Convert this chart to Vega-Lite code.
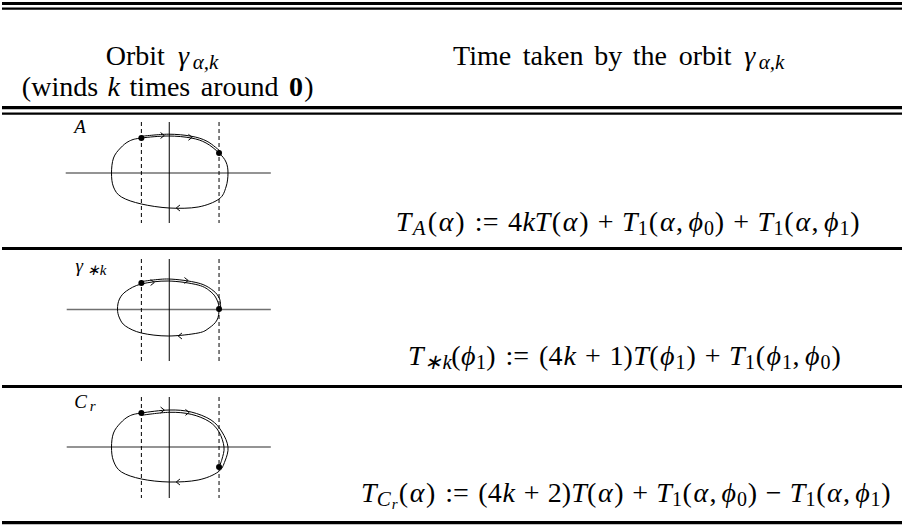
{
  "$schema": "https://vega.github.io/schema/vega-lite/v6.json",
  "width": 904,
  "height": 525,
  "autosize": {"type": "fit", "contains": "padding"},
  "padding": 0,
  "background": "white",
  "config": {"view": {"stroke": null}},
  "datasets": {
    "hrThick": [
      {"x1": 0, "x2": 904, "y": 3.5},
      {"x1": 0, "x2": 904, "y": 107.7},
      {"x1": 0, "x2": 904, "y": 248.5},
      {"x1": 0, "x2": 904, "y": 386.5},
      {"x1": 0, "x2": 904, "y": 522.6}
    ],
    "hrThin": [
      {"x1": 0, "x2": 904, "y": 8.6},
      {"x1": 0, "x2": 904, "y": 113.6}
    ],
    "haxis": [
      {"x1": 64, "x2": 270, "y": 173},
      {"x1": 65, "x2": 270, "y": 309.5},
      {"x1": 65, "x2": 270, "y": 447}
    ],
    "vsolid": [
      {"x": 168, "y1": 122, "y2": 223},
      {"x": 168, "y1": 259, "y2": 361},
      {"x": 168, "y1": 397, "y2": 498}
    ],
    "vdash": [
      {"x": 140, "y1": 122, "y2": 223},
      {"x": 218, "y1": 122, "y2": 223},
      {"x": 140, "y1": 259, "y2": 361},
      {"x": 218, "y1": 259, "y2": 361},
      {"x": 140, "y1": 397, "y2": 498},
      {"x": 218, "y1": 397, "y2": 498}
    ],
    "orbit": [
      {"id": "A", "o": 1, "x": 110, "y": 173},
      {"id": "A", "o": 2, "x": 112, "y": 158},
      {"id": "A", "o": 3, "x": 119, "y": 148},
      {"id": "A", "o": 4, "x": 128, "y": 141},
      {"id": "A", "o": 5, "x": 140, "y": 138},
      {"id": "A", "o": 6, "x": 167, "y": 136},
      {"id": "A", "o": 7, "x": 190, "y": 138},
      {"id": "A", "o": 8, "x": 205, "y": 143},
      {"id": "A", "o": 9, "x": 218, "y": 153},
      {"id": "A", "o": 10, "x": 225, "y": 162},
      {"id": "A", "o": 11, "x": 227, "y": 173},
      {"id": "A", "o": 12, "x": 225, "y": 187},
      {"id": "A", "o": 13, "x": 218, "y": 199},
      {"id": "A", "o": 14, "x": 197, "y": 207},
      {"id": "A", "o": 15, "x": 168, "y": 208},
      {"id": "A", "o": 16, "x": 140, "y": 204},
      {"id": "A", "o": 17, "x": 120, "y": 197},
      {"id": "A", "o": 18, "x": 112, "y": 187},
      {"id": "G", "o": 1, "x": 116, "y": 309},
      {"id": "G", "o": 2, "x": 118, "y": 299},
      {"id": "G", "o": 3, "x": 125, "y": 291},
      {"id": "G", "o": 4, "x": 140, "y": 284},
      {"id": "G", "o": 5, "x": 167, "y": 281},
      {"id": "G", "o": 6, "x": 197, "y": 285},
      {"id": "G", "o": 7, "x": 210, "y": 292},
      {"id": "G", "o": 8, "x": 216, "y": 300},
      {"id": "G", "o": 9, "x": 218, "y": 309},
      {"id": "G", "o": 10, "x": 216, "y": 320},
      {"id": "G", "o": 11, "x": 208, "y": 328},
      {"id": "G", "o": 12, "x": 197, "y": 333},
      {"id": "G", "o": 13, "x": 167, "y": 336},
      {"id": "G", "o": 14, "x": 140, "y": 333},
      {"id": "G", "o": 15, "x": 124, "y": 326},
      {"id": "G", "o": 16, "x": 118, "y": 318},
      {"id": "C", "o": 1, "x": 110, "y": 447},
      {"id": "C", "o": 2, "x": 112, "y": 433},
      {"id": "C", "o": 3, "x": 119, "y": 423},
      {"id": "C", "o": 4, "x": 128, "y": 416},
      {"id": "C", "o": 5, "x": 140, "y": 413},
      {"id": "C", "o": 6, "x": 168, "y": 410},
      {"id": "C", "o": 7, "x": 190, "y": 412},
      {"id": "C", "o": 8, "x": 210, "y": 420},
      {"id": "C", "o": 9, "x": 221, "y": 432},
      {"id": "C", "o": 10, "x": 227, "y": 447},
      {"id": "C", "o": 11, "x": 224, "y": 461},
      {"id": "C", "o": 12, "x": 217, "y": 472},
      {"id": "C", "o": 13, "x": 197, "y": 480},
      {"id": "C", "o": 14, "x": 168, "y": 482},
      {"id": "C", "o": 15, "x": 140, "y": 479},
      {"id": "C", "o": 16, "x": 120, "y": 472},
      {"id": "C", "o": 17, "x": 112, "y": 461}
    ],
    "dbl": [
      {"id": "A", "o": 1, "x": 140, "y": 136.3},
      {"id": "A", "o": 2, "x": 167, "y": 134.2},
      {"id": "A", "o": 3, "x": 190, "y": 136.2},
      {"id": "A", "o": 4, "x": 206, "y": 141.3},
      {"id": "A", "o": 5, "x": 219.5, "y": 151.5},
      {"id": "G", "o": 1, "x": 140, "y": 281.6},
      {"id": "G", "o": 2, "x": 167, "y": 279},
      {"id": "G", "o": 3, "x": 197, "y": 283},
      {"id": "G", "o": 4, "x": 212, "y": 290.5},
      {"id": "G", "o": 5, "x": 218.6, "y": 299},
      {"id": "G", "o": 6, "x": 219.5, "y": 308},
      {"id": "C", "o": 1, "x": 140, "y": 415.3},
      {"id": "C", "o": 2, "x": 168, "y": 412.3},
      {"id": "C", "o": 3, "x": 190, "y": 414.3},
      {"id": "C", "o": 4, "x": 208, "y": 421.5},
      {"id": "C", "o": 5, "x": 218, "y": 432},
      {"id": "C", "o": 6, "x": 223, "y": 447},
      {"id": "C", "o": 7, "x": 221, "y": 459},
      {"id": "C", "o": 8, "x": 218, "y": 467}
    ],
    "dots": [
      {"x": 140, "y": 138}, {"x": 218, "y": 153},
      {"x": 140, "y": 283}, {"x": 218, "y": 309},
      {"x": 140, "y": 413}, {"x": 218, "y": 467}
    ],
    "arrR": [
      {"x": 163, "y": 135.5}, {"x": 191, "y": 137.3},
      {"x": 153, "y": 282.5}, {"x": 187, "y": 280.5},
      {"x": 163, "y": 410}, {"x": 188, "y": 412.4}
    ],
    "arrL": [
      {"x": 175, "y": 208}, {"x": 177, "y": 336}, {"x": 175, "y": 482}
    ],
    "rm": [
      {"x": 133.8, "y": 65, "t": "Orbit"},
      {"x": 58.2, "y": 96, "t": "(winds"},
      {"x": 158.6, "y": 96, "t": "times"},
      {"x": 238.7, "y": 96, "t": "around"},
      {"x": 308.2, "y": 96, "t": ")"},
      {"x": 482.3, "y": 65, "t": "Time"},
      {"x": 553.6, "y": 65, "t": "taken"},
      {"x": 609.0, "y": 65, "t": "by"},
      {"x": 650.7, "y": 65, "t": "the"},
      {"x": 706.2, "y": 65, "t": "orbit"},
      {"x": 432.2, "y": 231, "t": "("},
      {"x": 459.9, "y": 231, "t": ")"},
      {"x": 486.8, "y": 231, "t": ":="},
      {"x": 515.2, "y": 231, "t": "4"},
      {"x": 556.9, "y": 231, "t": "("},
      {"x": 584.6, "y": 231, "t": ")"},
      {"x": 606.2, "y": 231, "t": "+"},
      {"x": 654.3, "y": 231, "t": "("},
      {"x": 680.5, "y": 231, "t": ","},
      {"x": 720.7, "y": 231, "t": ")"},
      {"x": 742.4, "y": 231, "t": "+"},
      {"x": 790.5, "y": 231, "t": "("},
      {"x": 816.6, "y": 231, "t": ","},
      {"x": 856.8, "y": 231, "t": ")"},
      {"x": 456.0, "y": 365, "t": "("},
      {"x": 491.2, "y": 365, "t": ")"},
      {"x": 517.6, "y": 365, "t": ":="},
      {"x": 551.2, "y": 365, "t": "(4"},
      {"x": 593.6, "y": 365, "t": "+"},
      {"x": 622.0, "y": 365, "t": "1)"},
      {"x": 654.9, "y": 365, "t": "("},
      {"x": 692.1, "y": 365, "t": ")"},
      {"x": 713.8, "y": 365, "t": "+"},
      {"x": 761.9, "y": 365, "t": "("},
      {"x": 797.6, "y": 365, "t": ","},
      {"x": 837.8, "y": 365, "t": ")"},
      {"x": 403.3, "y": 502, "t": "("},
      {"x": 430.5, "y": 502, "t": ")"},
      {"x": 457.1, "y": 502, "t": ":="},
      {"x": 490.2, "y": 502, "t": "(4"},
      {"x": 532.0, "y": 502, "t": "+"},
      {"x": 559.9, "y": 502, "t": "2)"},
      {"x": 592.4, "y": 502, "t": "("},
      {"x": 619.6, "y": 502, "t": ")"},
      {"x": 641.0, "y": 502, "t": "+"},
      {"x": 688.3, "y": 502, "t": "("},
      {"x": 714.1, "y": 502, "t": ","},
      {"x": 753.7, "y": 502, "t": ")"},
      {"x": 775.1, "y": 502, "t": "−"},
      {"x": 822.5, "y": 502, "t": "("},
      {"x": 848.3, "y": 502, "t": ","},
      {"x": 887.9, "y": 502, "t": ")"}
    ],
    "it": [
      {"x": 182.4, "y": 65, "t": "γ"},
      {"x": 112.1, "y": 96, "t": "k"},
      {"x": 751.1, "y": 65, "t": "γ"},
      {"x": 403.4, "y": 231, "t": "T"},
      {"x": 446.0, "y": 231, "t": "α"},
      {"x": 536.8, "y": 231, "t": "kT"},
      {"x": 570.7, "y": 231, "t": "α"},
      {"x": 630.5, "y": 231, "t": "T"},
      {"x": 668.2, "y": 231, "t": "α"},
      {"x": 696.8, "y": 231, "t": "ϕ"},
      {"x": 766.7, "y": 231, "t": "T"},
      {"x": 804.3, "y": 231, "t": "α"},
      {"x": 832.9, "y": 231, "t": "ϕ"},
      {"x": 415.5, "y": 365, "t": "T"},
      {"x": 468.2, "y": 365, "t": "ϕ"},
      {"x": 570.2, "y": 365, "t": "k"},
      {"x": 641.9, "y": 365, "t": "T"},
      {"x": 668.2, "y": 365, "t": "ϕ"},
      {"x": 738.1, "y": 365, "t": "T"},
      {"x": 775.1, "y": 365, "t": "ϕ"},
      {"x": 813.9, "y": 365, "t": "ϕ"},
      {"x": 368.3, "y": 502, "t": "T"},
      {"x": 416.9, "y": 502, "t": "α"},
      {"x": 508.9, "y": 502, "t": "k"},
      {"x": 579.5, "y": 502, "t": "T"},
      {"x": 606.0, "y": 502, "t": "α"},
      {"x": 664.9, "y": 502, "t": "T"},
      {"x": 702.0, "y": 502, "t": "α"},
      {"x": 730.1, "y": 502, "t": "ϕ"},
      {"x": 799.0, "y": 502, "t": "T"},
      {"x": 836.1, "y": 502, "t": "α"},
      {"x": 864.3, "y": 502, "t": "ϕ"}
    ],
    "bf": [
      {"x": 295.4, "y": 96, "t": "0"}
    ],
    "itsub": [
      {"x": 204.5, "y": 69, "t": "α,k"},
      {"x": 773.0, "y": 69, "t": "α,k"},
      {"x": 419.1, "y": 235, "t": "A"},
      {"x": 438.0, "y": 369, "t": "∗k"},
      {"x": 383.5, "y": 506, "t": "C"}
    ],
    "itsubsub": [
      {"x": 394.5, "y": 509, "t": "r"}
    ],
    "rmsub": [
      {"x": 643.7, "y": 235, "t": "1"},
      {"x": 710.1, "y": 235, "t": "0"},
      {"x": 779.9, "y": 235, "t": "1"},
      {"x": 846.3, "y": 235, "t": "1"},
      {"x": 481.2, "y": 369, "t": "1"},
      {"x": 681.6, "y": 369, "t": "1"},
      {"x": 751.3, "y": 369, "t": "1"},
      {"x": 788.5, "y": 369, "t": "1"},
      {"x": 827.2, "y": 369, "t": "0"},
      {"x": 677.9, "y": 506, "t": "1"},
      {"x": 743.3, "y": 506, "t": "0"},
      {"x": 812.0, "y": 506, "t": "1"},
      {"x": 877.4, "y": 506, "t": "1"}
    ],
    "lab": [
      {"x": 78.5, "y": 133, "t": "A"},
      {"x": 77.5, "y": 272, "t": "γ"},
      {"x": 79, "y": 408, "t": "C"}
    ],
    "labsub": [
      {"x": 95, "y": 275, "t": "∗k"},
      {"x": 91, "y": 411, "t": "r"}
    ]
  },
  "layer": [
    {
      "data": {"name": "hrThick"},
      "mark": {"type": "rule", "strokeWidth": 3.2, "color": "black"},
      "encoding": {
        "x": {"field": "x1", "type": "quantitative", "scale": {"domain": [0, 904], "nice": false, "zero": false}, "axis": null},
        "x2": {"field": "x2"},
        "y": {"field": "y", "type": "quantitative", "scale": {"domain": [0, 525], "nice": false, "zero": false, "reverse": true}, "axis": null}
      }
    },
    {
      "data": {"name": "hrThin"},
      "mark": {"type": "rule", "strokeWidth": 2.4, "color": "black"},
      "encoding": {
        "x": {"field": "x1", "type": "quantitative", "axis": null},
        "x2": {"field": "x2"},
        "y": {"field": "y", "type": "quantitative", "axis": null}
      }
    },
    {
      "data": {"name": "haxis"},
      "mark": {"type": "rule", "strokeWidth": 1.3, "color": "#707070"},
      "encoding": {
        "x": {"field": "x1", "type": "quantitative", "axis": null},
        "x2": {"field": "x2"},
        "y": {"field": "y", "type": "quantitative", "axis": null}
      }
    },
    {
      "data": {"name": "vsolid"},
      "mark": {"type": "rule", "strokeWidth": 1, "color": "black"},
      "encoding": {
        "x": {"field": "x", "type": "quantitative", "axis": null},
        "y": {"field": "y1", "type": "quantitative", "axis": null},
        "y2": {"field": "y2"}
      }
    },
    {
      "data": {"name": "vdash"},
      "mark": {"type": "rule", "strokeWidth": 1, "color": "black", "strokeDash": [4, 3]},
      "encoding": {
        "x": {"field": "x", "type": "quantitative", "axis": null},
        "y": {"field": "y1", "type": "quantitative", "axis": null},
        "y2": {"field": "y2"}
      }
    },
    {
      "data": {"name": "orbit"},
      "mark": {"type": "line", "interpolate": "cardinal-closed", "strokeWidth": 1, "color": "black"},
      "encoding": {
        "x": {"field": "x", "type": "quantitative", "axis": null},
        "y": {"field": "y", "type": "quantitative", "axis": null},
        "detail": {"field": "id"},
        "order": {"field": "o"}
      }
    },
    {
      "data": {"name": "dbl"},
      "mark": {"type": "line", "interpolate": "cardinal", "strokeWidth": 1, "color": "black"},
      "encoding": {
        "x": {"field": "x", "type": "quantitative", "axis": null},
        "y": {"field": "y", "type": "quantitative", "axis": null},
        "detail": {"field": "id"},
        "order": {"field": "o"}
      }
    },
    {
      "data": {"name": "arrR"},
      "mark": {"type": "point", "shape": "M-1,-0.8L0,0L-1,0.8", "filled": false, "color": "black", "strokeWidth": 1, "size": 55, "opacity": 1},
      "encoding": {
        "x": {"field": "x", "type": "quantitative", "axis": null},
        "y": {"field": "y", "type": "quantitative", "axis": null}
      }
    },
    {
      "data": {"name": "arrL"},
      "mark": {"type": "point", "shape": "M1,-0.8L0,0L1,0.8", "filled": false, "color": "black", "strokeWidth": 1, "size": 55, "opacity": 1},
      "encoding": {
        "x": {"field": "x", "type": "quantitative", "axis": null},
        "y": {"field": "y", "type": "quantitative", "axis": null}
      }
    },
    {
      "data": {"name": "dots"},
      "mark": {"type": "circle", "size": 36, "color": "black", "opacity": 1},
      "encoding": {
        "x": {"field": "x", "type": "quantitative", "axis": null},
        "y": {"field": "y", "type": "quantitative", "axis": null}
      }
    },
    {
      "data": {"name": "rm"},
      "mark": {"type": "text", "font": "Liberation Serif", "fontSize": 28, "align": "center", "baseline": "alphabetic", "color": "black"},
      "encoding": {
        "x": {"field": "x", "type": "quantitative", "axis": null},
        "y": {"field": "y", "type": "quantitative", "axis": null},
        "text": {"field": "t"}
      }
    },
    {
      "data": {"name": "it"},
      "mark": {"type": "text", "font": "Liberation Serif", "fontStyle": "italic", "fontSize": 28, "align": "center", "baseline": "alphabetic", "color": "black"},
      "encoding": {
        "x": {"field": "x", "type": "quantitative", "axis": null},
        "y": {"field": "y", "type": "quantitative", "axis": null},
        "text": {"field": "t"}
      }
    },
    {
      "data": {"name": "bf"},
      "mark": {"type": "text", "font": "Liberation Serif", "fontWeight": "bold", "fontSize": 28, "align": "center", "baseline": "alphabetic", "color": "black"},
      "encoding": {
        "x": {"field": "x", "type": "quantitative", "axis": null},
        "y": {"field": "y", "type": "quantitative", "axis": null},
        "text": {"field": "t"}
      }
    },
    {
      "data": {"name": "itsub"},
      "mark": {"type": "text", "font": "Liberation Serif", "fontStyle": "italic", "fontSize": 21, "align": "center", "baseline": "alphabetic", "color": "black"},
      "encoding": {
        "x": {"field": "x", "type": "quantitative", "axis": null},
        "y": {"field": "y", "type": "quantitative", "axis": null},
        "text": {"field": "t"}
      }
    },
    {
      "data": {"name": "itsubsub"},
      "mark": {"type": "text", "font": "Liberation Serif", "fontStyle": "italic", "fontSize": 15, "align": "center", "baseline": "alphabetic", "color": "black"},
      "encoding": {
        "x": {"field": "x", "type": "quantitative", "axis": null},
        "y": {"field": "y", "type": "quantitative", "axis": null},
        "text": {"field": "t"}
      }
    },
    {
      "data": {"name": "rmsub"},
      "mark": {"type": "text", "font": "Liberation Serif", "fontSize": 20, "align": "center", "baseline": "alphabetic", "color": "black"},
      "encoding": {
        "x": {"field": "x", "type": "quantitative", "axis": null},
        "y": {"field": "y", "type": "quantitative", "axis": null},
        "text": {"field": "t"}
      }
    },
    {
      "data": {"name": "lab"},
      "mark": {"type": "text", "font": "Liberation Serif", "fontStyle": "italic", "fontSize": 19, "align": "center", "baseline": "alphabetic", "color": "black"},
      "encoding": {
        "x": {"field": "x", "type": "quantitative", "axis": null},
        "y": {"field": "y", "type": "quantitative", "axis": null},
        "text": {"field": "t"}
      }
    },
    {
      "data": {"name": "labsub"},
      "mark": {"type": "text", "font": "Liberation Serif", "fontStyle": "italic", "fontSize": 15, "align": "center", "baseline": "alphabetic", "color": "black"},
      "encoding": {
        "x": {"field": "x", "type": "quantitative", "axis": null},
        "y": {"field": "y", "type": "quantitative", "axis": null},
        "text": {"field": "t"}
      }
    }
  ]
}
